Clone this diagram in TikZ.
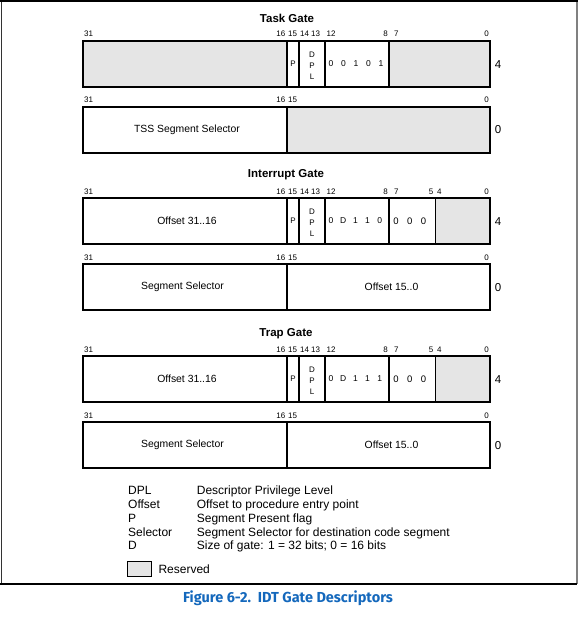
\documentclass[tikz,border=0pt]{standalone}
\usepackage{fontspec}
\setmainfont{Liberation Sans}
\newfontfamily\captionfont{Fira Sans}
\usepackage{xcolor}
\usepackage{tikz}
\usetikzlibrary{positioning}
\definecolor{resgray}{HTML}{E5E5E5}
\definecolor{figblue}{HTML}{1468BC}

\begin{document}
\begin{tikzpicture}[
  x=1pt, y=-1pt,
  cell/.style={draw=black, line width=1.2pt},
  reserved/.style={cell, fill=resgray},
  gatetitle/.style={font=\bfseries\fontsize{11.5}{13}\selectfont, inner sep=0pt},
  bitnum/.style={font=\fontsize{8}{9}\selectfont, inner sep=0pt},
  fieldtxt/.style={font=\fontsize{10.4}{12}\selectfont, inner sep=0pt},
  flag/.style={font=\fontsize{8}{11}\selectfont, inner sep=0pt, align=center},
  typebit/.style={font=\fontsize{8.5}{10}\selectfont, inner sep=0pt},
  zerobit/.style={font=\fontsize{9.5}{11}\selectfont, inner sep=0pt},
  dword/.style={font=\fontsize{11.5}{13}\selectfont, inner sep=0pt},
  legend/.style={font=\fontsize{12}{14}\selectfont, inner sep=0pt},
  caption/.style={font=\captionfont\bfseries\fontsize{14.5}{16}\selectfont, text=figblue, inner sep=0pt}
]
\useasboundingbox (0,0) rectangle (578,622);

% Page frame
\draw[black!80, line width=1pt] (1,0) -- (1,584);
\draw[gray, line width=1.5pt] (577,0) -- (577,584);
\draw[black, line width=1.5pt] (0,0.75) -- (578,0.75);
\draw[black, line width=1.3pt] (0,584) -- (577,584);

% Task gate
\node[gatetitle] (task-title) at (287,18.3) {Task Gate};
\foreach \x/\a/\t in {84/west/31, 285.5/east/16, 288/west/15, 300/west/14, 311/west/13, 326.5/west/12, 388/east/8, 394/west/7, 489/east/0}
  \node[bitnum, anchor=base \a] (task-hi-\t) at (\x,36.7) {\t};
\draw[reserved] (83,41) rectangle (287,87);
\draw[cell] (287,41) rectangle (299,87);
\draw[cell] (299,41) rectangle (325,87);
\draw[cell] (325,41) rectangle (389,87);
\draw[reserved] (389,41) rectangle (490,87);
\node[flag] (task-p) at (293,64) {P};
\node[flag] (task-dpl) at (312,65.5) {D\\P\\L};
\foreach \c [count=\i] in {0,0,1,0,1}
  \node[typebit] (task-t\i) at ({331+12.5*(\i-1)},64) {\c};
\node[dword] (task-d4) at (498,65) {4};
\foreach \x/\a/\t in {84/west/31, 285.5/east/16, 288/west/15, 489/east/0}
  \node[bitnum, anchor=base \a] (task-lo-\t) at (\x,102.7) {\t};
\draw[cell] (83,107) rectangle (287,153);
\draw[reserved] (287,107) rectangle (490,153);
\node[fieldtxt] (task-sel) at (187,130) {TSS Segment Selector};
\node[dword] (task-d0) at (498,130) {0};

% Interrupt gate
\node[gatetitle] (intr-title) at (286,175) {Interrupt Gate};
\foreach \x/\a/\t in {84/west/31, 285.5/east/16, 288/west/15, 300/west/14, 311/west/13, 326.5/west/12, 388/east/8, 394/west/7, 433.5/east/5, 437/west/4, 489/east/0}
  \node[bitnum, anchor=base \a] (intr-hi-\t) at (\x,194) {\t};
\draw[cell] (83,198) rectangle (287,244);
\draw[cell] (287,198) rectangle (299,244);
\draw[cell] (299,198) rectangle (325,244);
\draw[cell] (325,198) rectangle (389,244);
\draw[cell] (389,198) rectangle (435.5,244);
\draw[reserved] (435.5,198) rectangle (490,244);
\node[fieldtxt] (intr-offhi) at (187,221) {Offset 31..16};
\node[flag] (intr-p) at (293,221) {P};
\node[flag] (intr-dpl) at (312,222.5) {D\\P\\L};
\foreach \c [count=\i] in {0,D,1,1,0}
  \node[typebit] (intr-t\i) at ({331+12.2*(\i-1)},221) {\c};
\foreach \i in {1,2,3}
  \node[zerobit] (intr-z\i) at ({396+13.7*(\i-1)},221) {0};
\node[dword] (intr-d4) at (498,222) {4};
\foreach \x/\a/\t in {84/west/31, 285.5/east/16, 288/west/15, 489/east/0}
  \node[bitnum, anchor=base \a] (intr-lo-\t) at (\x,260) {\t};
\draw[cell] (83,264) rectangle (287,310);
\draw[cell] (287,264) rectangle (490,310);
\node[fieldtxt] (intr-sel) at (182.5,287) {Segment Selector};
\node[fieldtxt] (intr-offlo) at (391.5,287) {Offset 15..0};
\node[dword] (intr-d0) at (498,288) {0};

% Trap gate
\node[gatetitle] (trap-title) at (286,334) {Trap Gate};
\foreach \x/\a/\t in {84/west/31, 285.5/east/16, 288/west/15, 300/west/14, 311/west/13, 326.5/west/12, 388/east/8, 394/west/7, 433.5/east/5, 437/west/4, 489/east/0}
  \node[bitnum, anchor=base \a] (trap-hi-\t) at (\x,352.5) {\t};
\draw[cell] (83,356) rectangle (287,402);
\draw[cell] (287,356) rectangle (299,402);
\draw[cell] (299,356) rectangle (325,402);
\draw[cell] (325,356) rectangle (389,402);
\draw[cell] (389,356) rectangle (435.5,402);
\draw[reserved] (435.5,356) rectangle (490,402);
\node[fieldtxt] (trap-offhi) at (187,379) {Offset 31..16};
\node[flag] (trap-p) at (293,379) {P};
\node[flag] (trap-dpl) at (312,380.5) {D\\P\\L};
\foreach \c [count=\i] in {0,D,1,1,1}
  \node[typebit] (trap-t\i) at ({331+12.2*(\i-1)},379) {\c};
\foreach \i in {1,2,3}
  \node[zerobit] (trap-z\i) at ({396+13.7*(\i-1)},379) {0};
\node[dword] (trap-d4) at (498,380) {4};
\foreach \x/\a/\t in {84/west/31, 285.5/east/16, 288/west/15, 489/east/0}
  \node[bitnum, anchor=base \a] (trap-lo-\t) at (\x,418) {\t};
\draw[cell] (83,422) rectangle (287,468);
\draw[cell] (287,422) rectangle (490,468);
\node[fieldtxt] (trap-sel) at (182.5,445) {Segment Selector};
\node[fieldtxt] (trap-offlo) at (391.5,445) {Offset 15..0};
\node[dword] (trap-d0) at (498,446) {0};

% Legend
\foreach \k/\d [count=\i] in {DPL/Descriptor Privilege Level, Offset/Offset to procedure entry point, P/Segment Present flag, Selector/Segment Selector for destination code segment, D/{Size of gate: 1 = 32 bits; 0 = 16 bits}} {
  \node[legend, anchor=base west] (key-\i) at (128,{494.3+13.9*(\i-1)}) {\k};
  \node[legend, anchor=base west] (desc-\i) at (196.7,{494.3+13.9*(\i-1)}) {\d};
}
\draw[reserved, line width=0.9pt] (127.5,561) rectangle (151.5,576.5);
\node[legend, anchor=base west] (reserved-txt) at (158.3,573.3) {Reserved};

% Caption
\node[caption, anchor=base] (fig-caption) at (288,602) {Figure 6-2.\ \ IDT Gate Descriptors};

\end{tikzpicture}
\end{document}
